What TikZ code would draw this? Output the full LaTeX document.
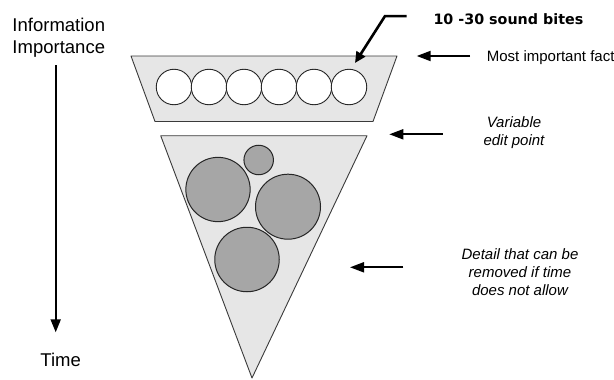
\documentclass[tikz,border=0pt]{standalone}
\usepackage{fontspec}
\setmainfont{Liberation Sans}
\newfontfamily\bitesfont{DejaVu Sans}
\usetikzlibrary{arrows.meta}
\definecolor{panelgray}{HTML}{E6E6E6}
\definecolor{bitegray}{HTML}{A6A6A6}
\definecolor{edgegray}{HTML}{3A3A3A}

\begin{document}
\begin{tikzpicture}[x=1pt, y=-1pt,
    panel/.style={draw=edgegray, line width=0.9pt, fill=panelgray, line join=round},
    bite/.style={circle, draw=black!85, line width=0.9pt, fill=white, minimum size=35.5pt, inner sep=0pt},
    bigbite/.style={circle, draw=black!85, line width=1pt, fill=bitegray, minimum size=#1, inner sep=0pt},
    axistext/.style={inner sep=0pt, font=\fontsize{18.5}{21.5}\selectfont, align=left},
    note/.style={inner sep=0pt, font=\fontsize{15}{18}\selectfont, align=center},
    sidearrow/.style={line width=2pt, -{Triangle[length=14pt,width=10pt]}},
    timearrow/.style={line width=2pt, -{Triangle[length=13pt,width=10pt]}},
    bitearrow/.style={line width=2.6pt, line join=miter, -{Triangle[length=11pt,width=10pt]}}]
  \useasboundingbox (0,0) rectangle (614,380);

  % left axis
  \node[axistext, anchor=base west] (info) at (12.3,53) {Information\\Importance};
  \node[axistext, anchor=base] (time) at (60.7,366.7) {Time};
  \coordinate (timetop) at (55.7,65);
  \draw[timearrow, shorten >=20.8pt] (timetop) -- (timetop |- time.north);

  % sound bite panel
  \draw[panel] (131,56) -- (397,56) -- (373,121.5) -- (155,121.5) -- cycle;
  \foreach \i in {1,...,6}
    \node[bite] (bite\i) at ({139+35*\i},87) {};

  % detail wedge
  \draw[panel] (160.7,135.7) -- (367,135.7) -- (252,378) -- cycle;
  \node[bigbite=64.3pt] (detail1) at (218,189.5) {};
  \node[bigbite=29.5pt] (detail2) at (258.7,160) {};
  \node[bigbite=65pt] (detail3) at (288,206.7) {};
  \node[bigbite=64.5pt] (detail4) at (247,259.5) {};

  % notes on the right
  \node[inner sep=0pt, anchor=base west, font=\bitesfont\bfseries\fontsize{14.3}{17}\selectfont] (bites) at (433.3,24) {10 -30 sound bites};
  \node[note, anchor=base west] (fact) at (486.7,61.7) {Most important fact};
  \node[note, anchor=base, font=\fontsize{15}{18}\selectfont\itshape] (edit) at (514,145) {Variable\\edit point};
  \node[note, anchor=base, font=\fontsize{15}{18}\selectfont\itshape] (detail) at (520,295.3) {Detail that can be\\removed if time\\does not allow};

  \coordinate (bitetip) at (355,63);
  \draw[bitearrow] ([xshift=-26.6pt, yshift=2.6pt]bites.west) -- ++(-21.7,0) -- (bitetip);

  \coordinate (facttail) at (470,56);
  \coordinate (facttip) at (416.7,56);
  \draw[sidearrow] (facttail) -- (facttip);
  \coordinate (edittail) at (442.7,134.3);
  \coordinate (edittip) at (389.3,134.3);
  \draw[sidearrow] (edittail) -- (edittip);
  \coordinate (detailtail) at (403.3,267.3);
  \coordinate (detailtip) at (350,267.3);
  \draw[sidearrow] (detailtail) -- (detailtip);
\end{tikzpicture}
\end{document}
